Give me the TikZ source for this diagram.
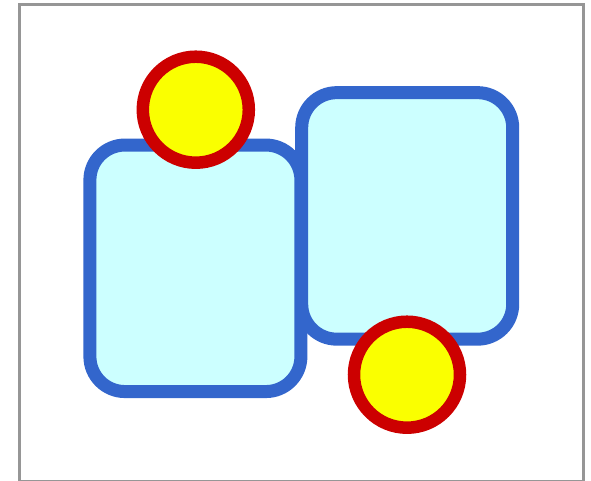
\documentclass[tikz,border=0pt]{standalone}
\definecolor{framegray}{RGB}{150,150,150}
\definecolor{boxblue}{RGB}{51,102,204}
\definecolor{boxfill}{RGB}{204,255,255}
\definecolor{ringred}{RGB}{204,0,0}
\definecolor{dotyellow}{RGB}{250,255,0}
\begin{document}
\begin{tikzpicture}[x=1pt,y=-1pt,
  panel/.style={draw=boxblue,fill=boxfill,line width=13pt,rounded corners=35pt,
    minimum width=211pt,minimum height=246.5pt,inner sep=0pt,outer sep=0pt},
  disc/.style={circle,draw=ringred,fill=dotyellow,line width=12.5pt,
    minimum size=106pt,inner sep=0pt,outer sep=0pt}]
\useasboundingbox (0,0) rectangle (591,480);
\begin{scope}
\clip (0,0) rectangle (591,480);
\draw[framegray,line width=3pt] (19,4.5) rectangle (583.5,481.5);
\end{scope}
\node[panel] (left) at (195.4,268.3) {};
\node[panel] (right) at (407.2,215.9) {};
\node[disc] (top) at (195.8,109.7) {};
\node[disc] (bottom) at (407,374.7) {};
\end{tikzpicture}
\end{document}
